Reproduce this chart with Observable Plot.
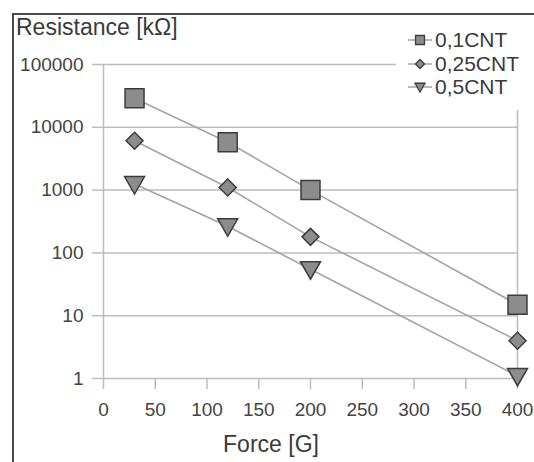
<!DOCTYPE html>
<html>
<head>
<meta charset="utf-8">
<script src="https://cdn.jsdelivr.net/npm/d3@7"></script>
<script src="https://cdn.jsdelivr.net/npm/@observablehq/plot@0.6"></script>
<style>
  html, body { margin: 0; padding: 0; background: #fff; }
  #wrap { position: relative; width: 534px; height: 462px; overflow: hidden; background: #fff; font-family: "Liberation Sans", Arial, sans-serif; color: #3a3a3a; }
  #frame { position: absolute; left: 12px; top: 13px; width: 600px; height: 600px; border-left: 2px solid #4a4a4a; border-top: 2px solid #4a4a4a; box-sizing: border-box; pointer-events: none; }
  #chart { position: absolute; left: 0; top: 0; }
  #ytitle { position: absolute; left: 16px; top: 14px; font-size: 23px; white-space: nowrap; }
  #xtitle { position: absolute; left: 0; width: 534px; top: 431px; text-align: center; font-size: 23px; padding-left: 8px; box-sizing: border-box; }
  #legend { position: absolute; left: 396px; top: 24px; width: 138px; height: 86px; background: #fff; }
  .item { position: absolute; left: 6px; height: 24px; display: flex; align-items: center; font-size: 21px; white-space: nowrap; }
  .item svg { margin-right: 1px; }
</style>
</head>
<body>
<div id="wrap">
  <div id="chart"></div>
  <div id="frame"></div>
  <div id="ytitle">Resistance [kΩ]</div>
  <div id="xtitle">Force [G]</div>
  <div id="legend"></div>
</div>
<script>
// ---- data ----
const seriesNames = ["0,1CNT", "0,25CNT", "0,5CNT"];
const forces = [30, 120, 200, 400];
const r01 = [29000, 5800, 1000, 15];
const r025 = [6100, 1100, 180, 4];
const r05 = [1250, 265, 55, 1.1];
const yTicks = [1, 10, 100, 1000, 10000, 100000];
const xTicks = [0, 50, 100, 150, 200, 250, 300, 350, 400];

const seriesValues = [r01, r025, r05];
const rows = [];
seriesNames.forEach((s, i) => forces.forEach((f, j) => rows.push({series: s, force: f, r: seriesValues[i][j]})));

// ---- symbols (size = PI * r^2) ----
const sq = {draw(ctx, size) { const r = Math.sqrt(size / Math.PI); ctx.rect(-r, -r, 2 * r, 2 * r); }};
const dia = {draw(ctx, size) { const r = Math.sqrt(size / Math.PI); ctx.moveTo(0, -r); ctx.lineTo(r, 0); ctx.lineTo(0, r); ctx.lineTo(-r, 0); ctx.closePath(); }};
const tri = {draw(ctx, size) { const r = Math.sqrt(size / Math.PI); ctx.moveTo(-r, -0.75 * r); ctx.lineTo(r, -0.75 * r); ctx.lineTo(0, 1.0 * r); ctx.closePath(); }};
const symbols = [sq, dia, tri];
const radii = [9.5, 8.5, 10];

const fill = "#8c8c8c", stroke = "#3c3c3c";

const plot = Plot.plot({
  width: 534,
  height: 462,
  marginLeft: 103,
  marginRight: 17,
  marginTop: 64,
  marginBottom: 84,
  style: {fontFamily: "'Liberation Sans', Arial, sans-serif", fontSize: "19px", color: "#444", background: "transparent"},
  x: {domain: [0, 400]},
  y: {type: "log", domain: [1, 100000]},
  marks: [
    Plot.gridY(yTicks, {stroke: "#bdbdbd", strokeOpacity: 1, strokeWidth: 1.5}),
    Plot.ruleX([0, 400], {y1: 1, y2: 100000, stroke: "#bdbdbd", strokeWidth: 1.5}),
    Plot.axisY(yTicks, {tickSize: 11, tickPadding: 9, stroke: "#bdbdbd", strokeWidth: 1.5, tickFormat: d => String(d), label: null, fontSize: 19}),
    Plot.axisX(xTicks, {tickSize: 11, tickPadding: 13, stroke: "#bdbdbd", strokeWidth: 1.5, tickFormat: d => String(d), label: null, fontSize: 19}),
    Plot.line(rows, {x: "force", y: "r", z: "series", stroke: "#a4a4a4", strokeWidth: 1.6}),
    ...seriesNames.map((s, i) => Plot.dot(rows.filter(d => d.series === s), {
      x: "force", y: "r", symbol: symbols[i], r: radii[i], fill, stroke, strokeWidth: 1.5
    }))
  ]
});
document.getElementById("chart").appendChild(plot);

// ---- legend ----
const legend = d3.select("#legend");
const legendR = [4.5, 4.5, 5];
seriesNames.forEach((s, i) => {
  const item = legend.append("div").attr("class", "item").style("top", (4 + i * 23.5) + "px");
  const svg = item.append("svg").attr("width", 32).attr("height", 24);
  svg.append("line").attr("x1", 6).attr("x2", 30).attr("y1", 12).attr("y2", 12).attr("stroke", "#a4a4a4").attr("stroke-width", 1.5);
  svg.append("path").attr("transform", "translate(18,12)")
    .attr("d", d3.symbol(symbols[i], Math.PI * legendR[i] * legendR[i])())
    .attr("fill", fill).attr("stroke", stroke).attr("stroke-width", 1.3);
  item.append("span").text(s);
});
</script>
</body>
</html>
